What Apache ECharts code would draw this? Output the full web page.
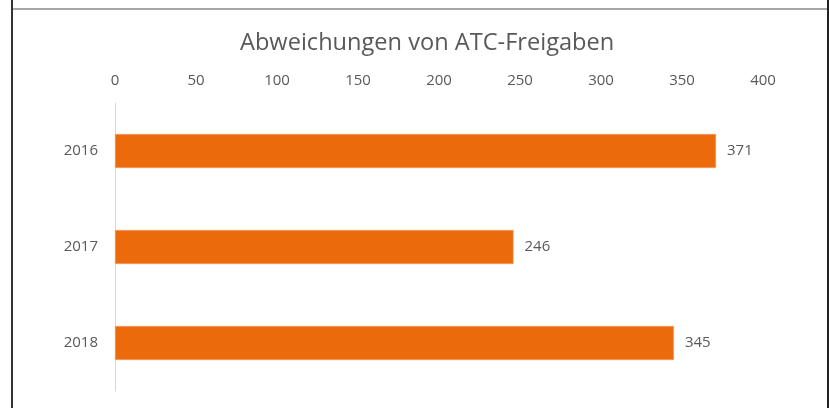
<!DOCTYPE html>
<html>
<head>
<meta charset="utf-8">
<script src="https://cdn.jsdelivr.net/npm/echarts@6/dist/echarts.min.js"></script>
<style>
html,body{margin:0;padding:0;background:#fff;}
#chart{width:829px;height:408px;}
</style>
</head>
<body>
<div id="chart"></div>
<script>
const titleText = 'Abweichungen von ATC-Freigaben';
const categories = ['2016', '2017', '2018'];
const values = [371, 246, 345];
const valueTicks = [0, 50, 100, 150, 200, 250, 300, 350, 400];

const chart = echarts.init(document.getElementById('chart'), null, {renderer: 'canvas'});
const font = 'Open Sans, Noto Sans, sans-serif';
chart.setOption({
  animation: false,
  backgroundColor: '#ffffff',
  title: {
    text: titleText,
    left: 235,
    top: 26,
    textStyle: {fontFamily: font, fontSize: 23.6, fontWeight: 'normal', color: '#595959'}
  },
  graphic: [
    {type: 'line', shape: {x1: 12, y1: 9, x2: 829, y2: 9}, style: {stroke: '#a6a6a6', lineWidth: 2}, z: 10},
    {type: 'line', shape: {x1: 12, y1: 0, x2: 12, y2: 408}, style: {stroke: '#333333', lineWidth: 2}, z: 11},
    {type: 'line', shape: {x1: 828, y1: 0, x2: 828, y2: 408}, style: {stroke: '#222222', lineWidth: 2}, z: 11}
  ],
  grid: {left: 115, right: 66, top: 103, bottom: 17, containLabel: false},
  xAxis: {
    type: 'value',
    position: 'top',
    min: valueTicks[0],
    max: valueTicks[valueTicks.length - 1],
    interval: valueTicks[1] - valueTicks[0],
    axisLine: {show: false},
    axisTick: {show: false},
    splitLine: {show: false},
    axisLabel: {margin: 15, fontFamily: font, fontSize: 15, color: '#595959'}
  },
  yAxis: {
    type: 'category',
    inverse: true,
    data: categories,
    axisLine: {show: true, lineStyle: {color: '#d9d9d9', width: 1}},
    axisTick: {show: false},
    axisLabel: {margin: 17, fontFamily: font, fontSize: 15, color: '#595959'}
  },
  series: [{
    type: 'bar',
    data: values,
    barWidth: 34,
    itemStyle: {color: '#EA6A0C', borderColor: '#F5A66F', borderWidth: 0.5},
    label: {
      show: true,
      position: 'right',
      distance: 11,
      fontFamily: font,
      fontSize: 15,
      color: '#595959'
    }
  }]
});
</script>
</body>
</html>
